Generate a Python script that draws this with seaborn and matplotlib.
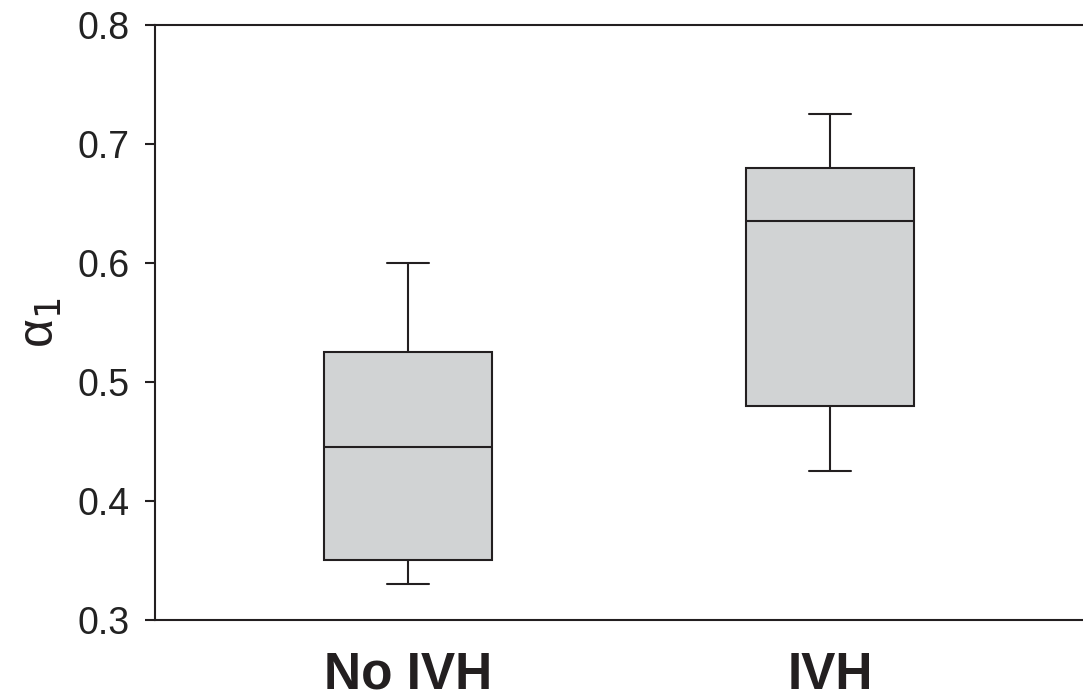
import matplotlib
matplotlib.use("Agg")
import matplotlib.pyplot as plt
import numpy as np
import pandas as pd
import seaborn as sns

# five-number summaries (min, q1, median, q3, max)
groups = ["No IVH", "IVH"]
no_ivh = [0.33, 0.35, 0.445, 0.525, 0.60]
ivh = [0.425, 0.48, 0.635, 0.68, 0.725]

df = pd.DataFrame({
    "group": ["No IVH"] * len(no_ivh) + ["IVH"] * len(ivh),
    "alpha1": no_ivh + ivh,
})

sns.set_style("ticks")
plt.rcParams["font.family"] = ["Liberation Sans", "DejaVu Sans"]

dark = "#231f20"
fig = plt.figure(figsize=(10.83, 7), dpi=100)
ax = fig.add_axes([0.1431, 0.1143, 0.8569, 0.85])

sns.boxplot(data=df, x="group", y="alpha1", order=groups, ax=ax,
            whis=(0, 100), width=0.4, color="#d1d3d4", saturation=1,
            linewidth=1.5, linecolor=dark, showfliers=False,
            boxprops=dict(facecolor="#d1d3d4", edgecolor=dark),
            medianprops=dict(color=dark, linewidth=1.5),
            whiskerprops=dict(color=dark, linewidth=1.5),
            capprops=dict(color=dark, linewidth=1.5))

# narrower caps than the default (about a quarter of the box width)
for ln in ax.lines:
    xd = np.asarray(ln.get_xdata(), dtype=float)
    yd = np.asarray(ln.get_ydata(), dtype=float)
    if len(xd) == 2 and yd[0] == yd[1] and abs(abs(xd[1] - xd[0]) - 0.2) < 1e-6:
        c = xd.mean()
        ln.set_xdata([c - 0.05, c + 0.05])

ax.set_xlim(-0.6, 1.6)
ax.set_ylim(0.3, 0.8)
ax.set_yticks([0.3, 0.4, 0.5, 0.6, 0.7, 0.8])
ax.set_yticklabels(["0.3", "0.4", "0.5", "0.6", "0.7", "0.8"])

for s in ["left", "top", "bottom"]:
    ax.spines[s].set_color(dark)
    ax.spines[s].set_linewidth(1.5)
ax.spines["right"].set_visible(False)

ax.tick_params(axis="y", direction="out", length=7, width=1.5, color=dark,
               labelsize=27, pad=11, labelcolor="#222222")
ax.tick_params(axis="x", length=0, pad=22, labelsize=37)
for lab in ax.get_xticklabels():
    lab.set_fontweight("bold")
    lab.set_color(dark)

ax.set_xlabel("")
ax.set_ylabel(r"α$_1$", fontsize=36, color=dark, labelpad=10)

fig.savefig("out.png", dpi=100)
